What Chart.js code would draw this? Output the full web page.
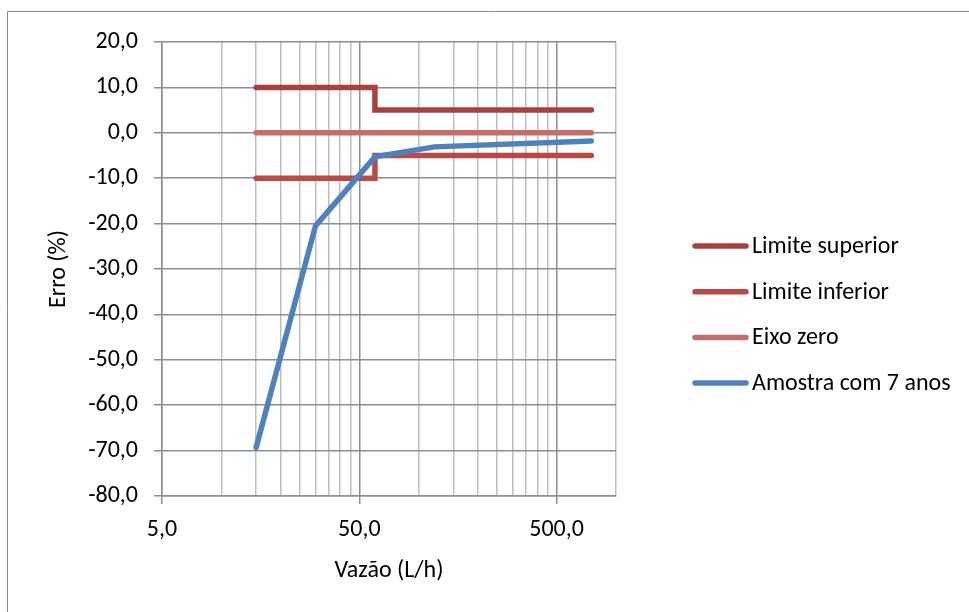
<!DOCTYPE html>
<html>
<head>
<meta charset="utf-8">
<script src="https://cdn.jsdelivr.net/npm/chart.js@4.4.1/dist/chart.umd.min.js"></script>
<style>
  body { margin: 0; background: #fff; }
  #wrap { position: relative; width: 969px; height: 612px; }
</style>
</head>
<body>
<div id="wrap"><canvas id="myChart" width="969" height="612"></canvas></div>
<script>
// series names
var seriesNames = ['Limite superior', 'Limite inferior', 'Eixo zero', 'Amostra com 7 anos'];
var seriesColors = ['#A8413E', '#BA4A47', '#C66D6C', '#4F81BD'];

// flow values (L/h) and error (%)
var vazaoLimites = [15, 60, 60, 750];
var limiteSuperior = [10, 10, 5, 5];
var limiteInferior = [-10, -10, -5, -5];
var vazaoZero = [15, 750];
var eixoZero = [0, 0];
var vazaoAmostra = [15, 30, 60, 120, 750];
var amostra = [-69.3, -20.5, -5.3, -3.1, -1.8];

// axis ticks
var xTickLabels = [5, 50, 500];
var xGridLines = [5, 10, 15, 20, 25, 30, 35, 40, 45, 50, 100, 150, 200, 250, 300, 350, 400, 450, 500, 1000];
var yMin = -80;
var yMax = 20;
var yStep = 10;

var fontFam = "Carlito, Lato, 'Liberation Sans', sans-serif";
var fontSize = 24;
var darkGrid = '#8e8e8e';
var lightGrid = '#bdbdbd';

function toPoints(xs, ys) {
    return xs.map(function (x, i) { return { x: x, y: ys[i] }; });
}

function fmt(v) {
    return v.toFixed(1).replace('.', ',');
}

function makeSet(i, xs, ys, order) {
    return {
        label: seriesNames[i],
        data: toPoints(xs, ys),
        borderColor: seriesColors[i],
        backgroundColor: seriesColors[i],
        borderWidth: 5.5,
        borderCapStyle: 'round',
        borderJoinStyle: 'miter',
        pointRadius: 0,
        showLine: true,
        tension: 0,
        order: order
    };
}

// legend on the right + outer frame
var sideLegend = {
    id: 'sideLegend',
    beforeDraw: function (chart) {
        var ctx = chart.ctx;
        ctx.save();
        ctx.strokeStyle = '#8c8c8c';
        ctx.lineWidth = 1;
        ctx.beginPath();
        ctx.moveTo(7.5, 612);
        ctx.lineTo(7.5, 11.5);
        ctx.lineTo(969, 11.5);
        ctx.stroke();
        ctx.restore();
    },
    afterDraw: function (chart) {
        var ctx = chart.ctx;
        ctx.save();
        ctx.font = fontSize + 'px ' + fontFam;
        ctx.textBaseline = 'middle';
        ctx.textAlign = 'left';
        seriesNames.forEach(function (name, i) {
            var y = 246 + i * 45.7;
            ctx.strokeStyle = seriesColors[i];
            ctx.lineWidth = 5.5;
            ctx.lineCap = 'round';
            ctx.beginPath();
            ctx.moveTo(695, y);
            ctx.lineTo(746, y);
            ctx.stroke();
            ctx.fillStyle = '#000';
            ctx.fillText(name, 752, y + 1);
        });
        ctx.restore();
    }
};

function createChart() {
    const ctx = document.getElementById('myChart').getContext('2d');
    const myChart = new Chart(ctx, {
        type: 'scatter',
        data: {
            datasets: [
                makeSet(0, vazaoLimites, limiteSuperior, 1),
                makeSet(1, vazaoLimites, limiteInferior, 1),
                makeSet(2, vazaoZero, eixoZero, 1),
                makeSet(3, vazaoAmostra, amostra, 0)
            ]
        },
        options: {
            responsive: false,
            animation: false,
            layout: { padding: { left: 0, top: 42, right: 353, bottom: 0 } },
            plugins: {
                legend: { display: false },
                tooltip: { enabled: false }
            },
            scales: {
                x: {
                    type: 'logarithmic',
                    min: 5,
                    max: 1000,
                    afterBuildTicks: function (scale) {
                        scale.ticks = xGridLines.map(function (v) {
                            return { value: v, major: xTickLabels.indexOf(v) >= 0 };
                        });
                    },
                    afterFit: function (scale) { scale.height = 612 - 496; },
                    grid: {
                        color: function (c) {
                            return xTickLabels.indexOf(c.tick.value) >= 0 ? darkGrid : lightGrid;
                        },
                        tickColor: function (c) {
                            return xTickLabels.indexOf(c.tick.value) >= 0 ? darkGrid : 'rgba(0,0,0,0)';
                        },
                        tickLength: 8,
                        lineWidth: 1.5
                    },
                    border: { color: darkGrid, width: 1.5 },
                    ticks: {
                        autoSkip: false,
                        maxRotation: 0,
                        padding: 12,
                        color: '#000',
                        font: { family: fontFam, size: fontSize },
                        callback: function (v) {
                            return xTickLabels.indexOf(v) >= 0 ? fmt(v) : '';
                        }
                    },
                    title: {
                        display: true,
                        text: 'Vazão (L/h)',
                        color: '#000',
                        font: { family: fontFam, size: fontSize },
                        padding: { top: 27, bottom: 27 }
                    }
                },
                y: {
                    min: yMin,
                    max: yMax,
                    afterFit: function (scale) { scale.width = 162; },
                    grid: {
                        color: darkGrid,
                        tickColor: darkGrid,
                        tickLength: 8,
                        lineWidth: 1.5
                    },
                    border: { color: darkGrid, width: 1.5 },
                    ticks: {
                        stepSize: yStep,
                        padding: 16,
                        color: '#000',
                        font: { family: fontFam, size: fontSize },
                        callback: function (v) { return fmt(v); }
                    },
                    title: {
                        display: true,
                        text: 'Erro (%)',
                        color: '#000',
                        font: { family: fontFam, size: fontSize },
                        padding: { top: 45, bottom: 45 }
                    }
                }
            }
        },
        plugins: [sideLegend]
    });
}

createChart();
</script>
</body>
</html>
